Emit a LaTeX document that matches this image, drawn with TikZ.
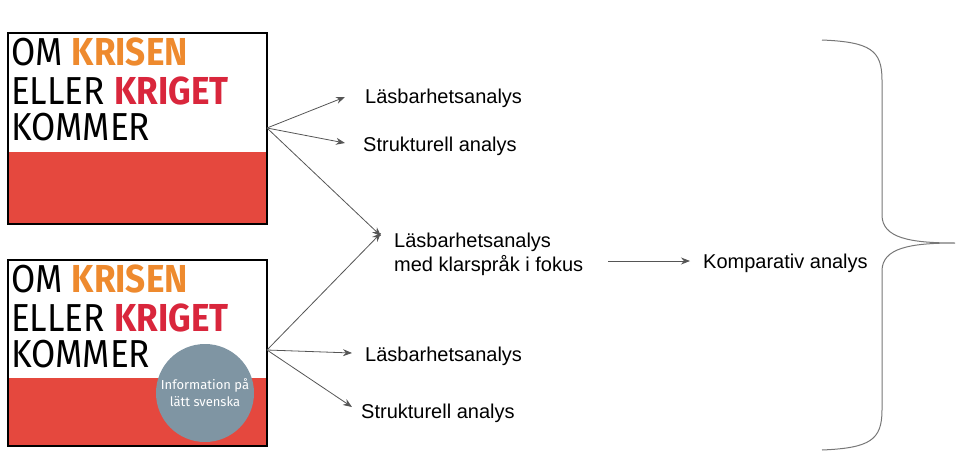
\documentclass[tikz,border=0pt]{standalone}
\usepackage{fontspec}
\setmainfont{Liberation Sans}
\newfontfamily\coverfont{Fira Sans}
\usetikzlibrary{arrows.meta}
\definecolor{cred}{HTML}{E5483E}
\definecolor{corange}{HTML}{EE8A2E}
\definecolor{ckrig}{HTML}{D9263C}
\definecolor{cgray}{HTML}{7F95A3}
\definecolor{cline}{HTML}{555555}
\tikzset{
  lbl/.style={anchor=west,inner sep=0pt,font=\fontsize{20}{24}\selectfont},
  arr/.style={draw=cline,line width=0.8pt,-{Stealth[length=9pt,width=7pt]}},
  title/.style={anchor=west,inner sep=0pt,xscale=0.9,font=\coverfont\fontsize{39}{40}\selectfont},
}
\begin{document}
\begin{tikzpicture}[x=1pt,y=-1pt]
\useasboundingbox (0,0) rectangle (967,463);
% cover 1
\fill[cred] (8,152) rectangle (267,224);
\draw[line width=2pt] (8,33) rectangle (267,224);
\node[title] (t1a) at (11,52) {OM \textbf{\color{corange}KRISEN}};
\node[title] (t1b) at (11,91) {ELLER \textbf{\color{ckrig}KRIGET}};
\node[title] (t1c) at (11,127) {KOMMER};
\coordinate (c1) at (267,128);
% cover 2
\fill[cred] (8,378) rectangle (267,446);
\node[circle,fill=cgray,minimum size=98pt,inner sep=0pt,align=center,text=white,font=\coverfont\fontsize{13}{17}\selectfont] (circ) at (205,393) {Information på\\lätt svenska};
\draw[line width=2pt] (8,260) rectangle (267,446);
\node[title] (t2a) at (11,279) {OM \textbf{\color{corange}KRISEN}};
\node[title] (t2b) at (11,318) {ELLER \textbf{\color{ckrig}KRIGET}};
\node[title] (t2c) at (11,354) {KOMMER};
\coordinate (c2) at (267,350);
% labels
\node[lbl] (l1) at (365,98) {Läsbarhetsanalys};
\node[lbl] (s1) at (363,146) {Strukturell analys};
\node[lbl,align=left] (m) at (394,254) {Läsbarhetsanalys\\med klarspråk i fokus};
\node[lbl] (l2) at (365,356) {Läsbarhetsanalys};
\node[lbl] (s2) at (361,413) {Strukturell analys};
\node[lbl] (k) at (703,263) {Komparativ analys};
% arrows
\draw[arr] (c1) -- (345,97);
\draw[arr] (c1) -- (345,143);
\draw[arr] (c1) -- (381,236);
\draw[arr] (c2) -- (381,233);
\draw[arr] (c2) -- (352,353);
\draw[arr] (c2) -- (352,407);
\draw[arr] (608,261) -- (690,261);
% brace
\draw[cline!80,line width=1pt] (822,40) .. controls (870,42) and (882,50) .. (882,80)
  -- (882,215) .. controls (882,238) and (910,243) .. (955,243)
  .. controls (910,243) and (882,248) .. (882,271)
  -- (882,410) .. controls (882,440) and (870,448) .. (822,450);
\end{tikzpicture}
\end{document}
